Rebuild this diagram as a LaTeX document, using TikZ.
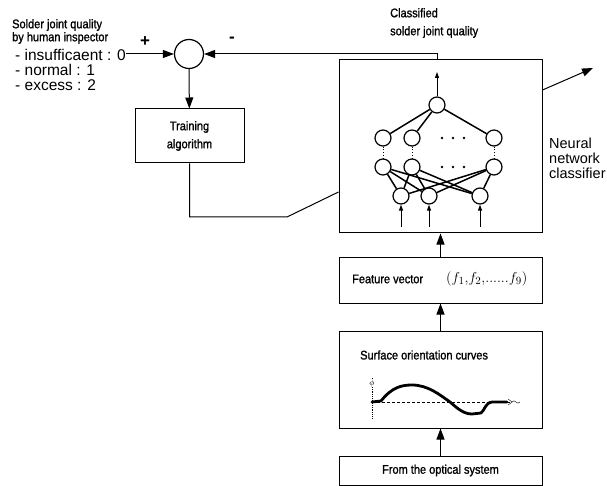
\documentclass[tikz,border=0pt]{standalone}
\usepackage{fontspec}
\setmainfont{Liberation Sans}
\newfontfamily\narrowfont[FakeStretch=0.88, FakeBold=1.2]{Liberation Sans}
\usetikzlibrary{positioning,arrows.meta}

\begin{document}
\begin{tikzpicture}[x=1pt, y=-1pt,
  box/.style={draw, line width=1pt, minimum width=203pt, inner sep=0pt},
  lab/.style={font=\narrowfont\fontsize{12.5}{18}\selectfont, inner sep=0pt, align=left},
  big/.style={font=\fontsize{14}{15}\selectfont, inner sep=0pt, align=left},
  neu/.style={draw, line width=1.2pt, circle, minimum size=16pt, inner sep=0pt},
  arr/.style={-{Triangle[length=11pt, width=8pt]}, line width=1pt},
  sarr/.style={-{Triangle[length=6pt, width=4pt]}, line width=1pt},
  wire/.style={line width=1.5pt}]
\useasboundingbox (0,0) rectangle (607,486);
\node[box, minimum height=173pt] (nn) at (440.5,146.5) {};
\node[box, minimum height=46pt, below=23pt of nn] (feat) {};
\node[box, minimum height=97pt, below=27pt of feat] (surf) {};
\node[box, lab, minimum height=29pt, below=27pt of surf] (opt) {From the optical system};
\node[draw, line width=1pt, lab, align=center, minimum width=109pt, minimum height=54pt] (train) at (189.5,136) {Training\\algorithm};
\node[draw, line width=1.2pt, circle, minimum size=29pt] (sum) at (189,54) {};
\node[lab, anchor=west, font=\narrowfont\fontsize{12.5}{13}\selectfont] (who) at (12,31.5) {Solder joint quality\\by human inspector};
\node[big, anchor=west, font=\fontsize{15.5}{15}\selectfont] (grades) at (15,70) {- insufficaent : 0\\- normal : 1\\- excess : 2};
\node[big, font=\bfseries\fontsize{17}{17}\selectfont] (plus) at (145,42) {+};
\node[big, font=\bfseries\fontsize{17}{17}\selectfont] (minus) at (232,40) {-};
\node[lab, anchor=north west] (cls) at (390,8) {Classified\\solder joint quality};
\node[big, anchor=west, font=\fontsize{14.5}{15}\selectfont] (nnc) at (549,158) {Neural\\network\\classifier};
\node[lab, anchor=west] (fv) at (352,279) {Feature vector};
\node[anchor=west, inner sep=0pt, font=\fontsize{15}{16}\selectfont] (fvec) at (446,279) {$(f_1{,}f_2{,}{.}{.}{.}{.}{.}{.}f_9)$};
\node[lab, anchor=west] (sft) at (360,355) {Surface orientation curves};
\draw[densely dotted, thick] (372,378) -- (372,418);
\node[inner sep=0pt, font=\footnotesize, fill=white] (phi) at (372,383) {$\phi$};
\draw[densely dashed] (372,402) -- (510,402);
\draw (508,399) -- (512,402) -- (508,405);
\draw (512,402) .. controls (515,398) and (517,406) .. (520,402);
\draw[line width=2.8pt, line join=round, line cap=round] (372,402) -- (381,401)
  .. controls (392,387) and (402,385) .. (412,385)
  .. controls (428,385) and (440,395) .. (450,402)
  .. controls (458,409) and (464,414) .. (472,414)
  -- (481,413) .. controls (485,410) and (485,403) .. (492,402) -- (507,402);
\node[neu] (o) at (437,105) {};
\foreach \x [count=\i] in {383,412,494} {
  \node[neu] (a\i) at (\x,138) {};
  \node[neu] (b\i) at (\x,167) {};
  \draw[dotted, thick] (a\i) -- (b\i);
  \draw[wire] (o) -- (a\i);
}
\foreach \x [count=\i] in {401,429,480} {
  \node[neu] (c\i) at (\x,196) {};
  \coordinate (in\i) at (\x,227);
  \draw[sarr] (in\i) -- (c\i);
}
\foreach \i in {1,2,3}
  \foreach \j in {1,2,3}
    \draw[wire] (c\i) -- (b\j);
\foreach \y in {138,167}
  \foreach \d in {-11,0,11}
    \fill (453+\d,\y) circle (1.4pt);
\coordinate (otip) at (437,72);
\draw[sarr] (o) -- (otip);
\draw[arr] (nn.north -| o) |- (sum);
\draw[arr] (grades.east |- sum) -- (sum);
\draw[arr] (sum) -- (train);
\coordinate (kink) at (287,217);
\coordinate (tap) at (339,192);
\draw[line width=1pt] (train) |- (kink) -- (nn.west |- tap);
\coordinate (ogo) at (542,90);
\coordinate (otgt) at (593,68);
\draw[arr] (nn.east |- ogo) -- (otgt);
\draw[arr] (feat) -- (nn);
\draw[arr] (surf) -- (feat);
\draw[arr] (opt) -- (surf);
\end{tikzpicture}
\end{document}
